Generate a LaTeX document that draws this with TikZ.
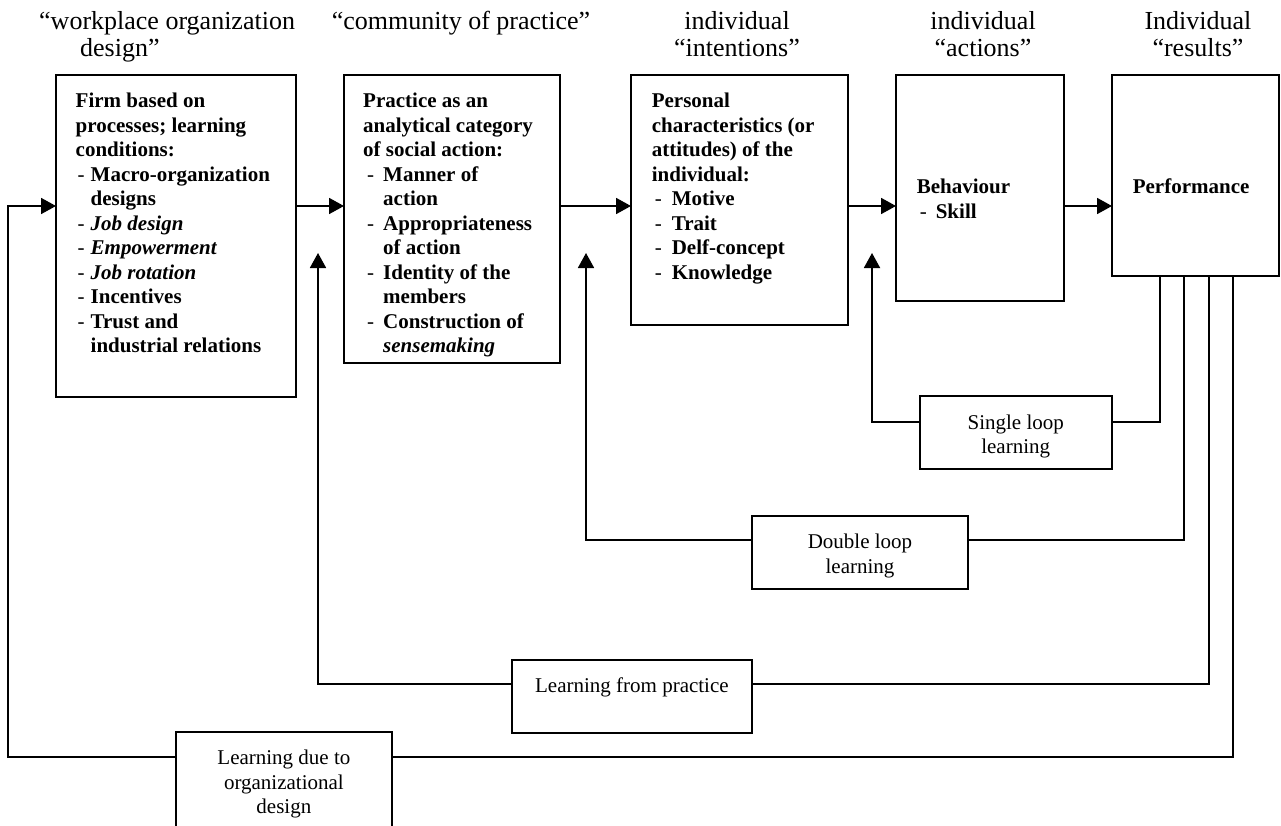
\documentclass[tikz,border=0pt]{standalone}
\usepackage{fontspec}
\setmainfont{Liberation Serif}
\usetikzlibrary{arrows.meta}
\newcommand{\dsh}[1]{\makebox[#1][l]{\mdseries -}}
\begin{document}
\begin{tikzpicture}[x=1pt,y=-1pt,
  bx/.style={draw, line width=1.8pt, anchor=north west, inner sep=0pt, outer sep=0pt},
  bt/.style={anchor=north west, inner sep=0pt, align=left, font=\fontsize{21}{24.5}\selectfont\bfseries},
  lt/.style={anchor=north, inner sep=0pt, align=center, font=\fontsize{21}{24.5}\selectfont},
  hd/.style={anchor=north, inner sep=0pt, align=center, font=\fontsize{26}{27}\selectfont},
  arr/.style={line width=1.8pt, -{Triangle[length=15pt,width=16pt]}},
  ln/.style={line width=1.8pt}]
\useasboundingbox (0,0) rectangle (1281,826);
\clip (0,0) rectangle (1281,826);

% headers
\node[hd, anchor=north west, align=left] (h1) at (39,11) {“workplace organization\\\hspace*{41pt}design”};
\node[hd] (h2) at (461,11) {“community of practice”};
\node[hd] (h3) at (737,11) {individual\\“intentions”};
\node[hd] (h4) at (983,11) {individual\\“actions”};
\node[hd] (h5) at (1198,11) {Individual\\“results”};

% main boxes
\node[bx, minimum width=240pt, minimum height=322pt] (b1) at (56,75) {};
\node[bx, minimum width=216pt, minimum height=288pt] (b2) at (344,75) {};
\node[bx, minimum width=217pt, minimum height=250pt] (b3) at (631,75) {};
\node[bx, minimum width=168pt, minimum height=226pt] (b4) at (896,75) {};
\node[bx, minimum width=167pt, minimum height=201pt] (b5) at (1112,75) {};

\node[bt] (t1) at (75.5,93) {Firm based on\\
processes; learning\\
conditions:\\
\hspace*{2pt}\dsh{13pt}Macro-organization\\
\hspace*{15pt}designs\\
\hspace*{2pt}\dsh{13pt}\textit{Job design}\\
\hspace*{2pt}\dsh{13pt}\textit{Empowerment}\\
\hspace*{2pt}\dsh{13pt}\textit{Job rotation}\\
\hspace*{2pt}\dsh{13pt}Incentives\\
\hspace*{2pt}\dsh{13pt}Trust and\\
\hspace*{15pt}industrial relations};

\node[bt] (t2) at (363,93) {Practice as an\\
analytical category\\
of social action:\\
\hspace*{4pt}\dsh{16pt}Manner of\\
\hspace*{20pt}action\\
\hspace*{4pt}\dsh{16pt}Appropriateness\\
\hspace*{20pt}of action\\
\hspace*{4pt}\dsh{16pt}Identity of the\\
\hspace*{20pt}members\\
\hspace*{4pt}\dsh{16pt}Construction of\\
\hspace*{20pt}\textit{sensemaking}};

\node[bt] (t3) at (651.6,93) {Personal\\
characteristics (or\\
attitudes) of the\\
individual:\\
\hspace*{3pt}\dsh{17pt}Motive\\
\hspace*{3pt}\dsh{17pt}Trait\\
\hspace*{3pt}\dsh{17pt}Delf-concept\\
\hspace*{3pt}\dsh{17pt}Knowledge};

\node[bt] (t4) at (916.6,179) {Behaviour\\
\hspace*{3pt}\dsh{16pt}Skill};

\node[bt] (t5) at (1132.6,179) {Performance};

% feedback label boxes
\node[bx, minimum width=192pt, minimum height=73.3pt] (sl) at (919.6,395.7) {};
\node[bx, minimum width=216pt, minimum height=73pt] (dl) at (752,516) {};
\node[bx, minimum width=240.3pt, minimum height=72.7pt] (lp) at (511.7,660) {};
\node[bx, minimum width=216.3pt, minimum height=120pt] (ld) at (175.7,731.7) {};

\node[lt] (slt) at (1015.7,414.7) {Single loop\\learning};
\node[lt] (dlt) at (860,534) {Double loop\\learning};
\node[lt] (lpt) at (631.9,678) {Learning from practice};
\node[lt] (ldt) at (283.9,750) {Learning due to\\organizational\\design};

% coordinates
\coordinate (mainy) at (0,206);
\coordinate (up1) at (318,253);
\coordinate (up2) at (586,253);
\coordinate (up3) at (872,253);
\coordinate (f1) at (1160,421.7);
\coordinate (f2) at (1184,540);
\coordinate (f3) at (1208.6,684.3);
\coordinate (f4) at (1232.6,757);
\coordinate (lft) at (8,0);

% forward arrows
\draw[arr] (b1.east |- mainy) -- (b2.west |- mainy);
\draw[arr] (b2.east |- mainy) -- (b3.west |- mainy);
\draw[arr] (b3.east |- mainy) -- (b4.west |- mainy);
\draw[arr] (b4.east |- mainy) -- (b5.west |- mainy);

% feedback loops
\draw[ln] (b5.south -| f1) -- (f1) -- (sl.east |- f1);
\draw[arr] (sl.west |- f1) -| (up3);
\draw[ln] (b5.south -| f2) -- (f2) -- (dl.east |- f2);
\draw[arr] (dl.west |- f2) -| (up2);
\draw[ln] (b5.south -| f3) -- (f3) -- (lp.east |- f3);
\draw[arr] (lp.west |- f3) -| (up1);
\draw[ln] (b5.south -| f4) -- (f4) -- (ld.east |- f4);
\draw[arr] (ld.west |- f4) -| (lft |- mainy) -- (b1.west |- mainy);
\end{tikzpicture}
\end{document}
